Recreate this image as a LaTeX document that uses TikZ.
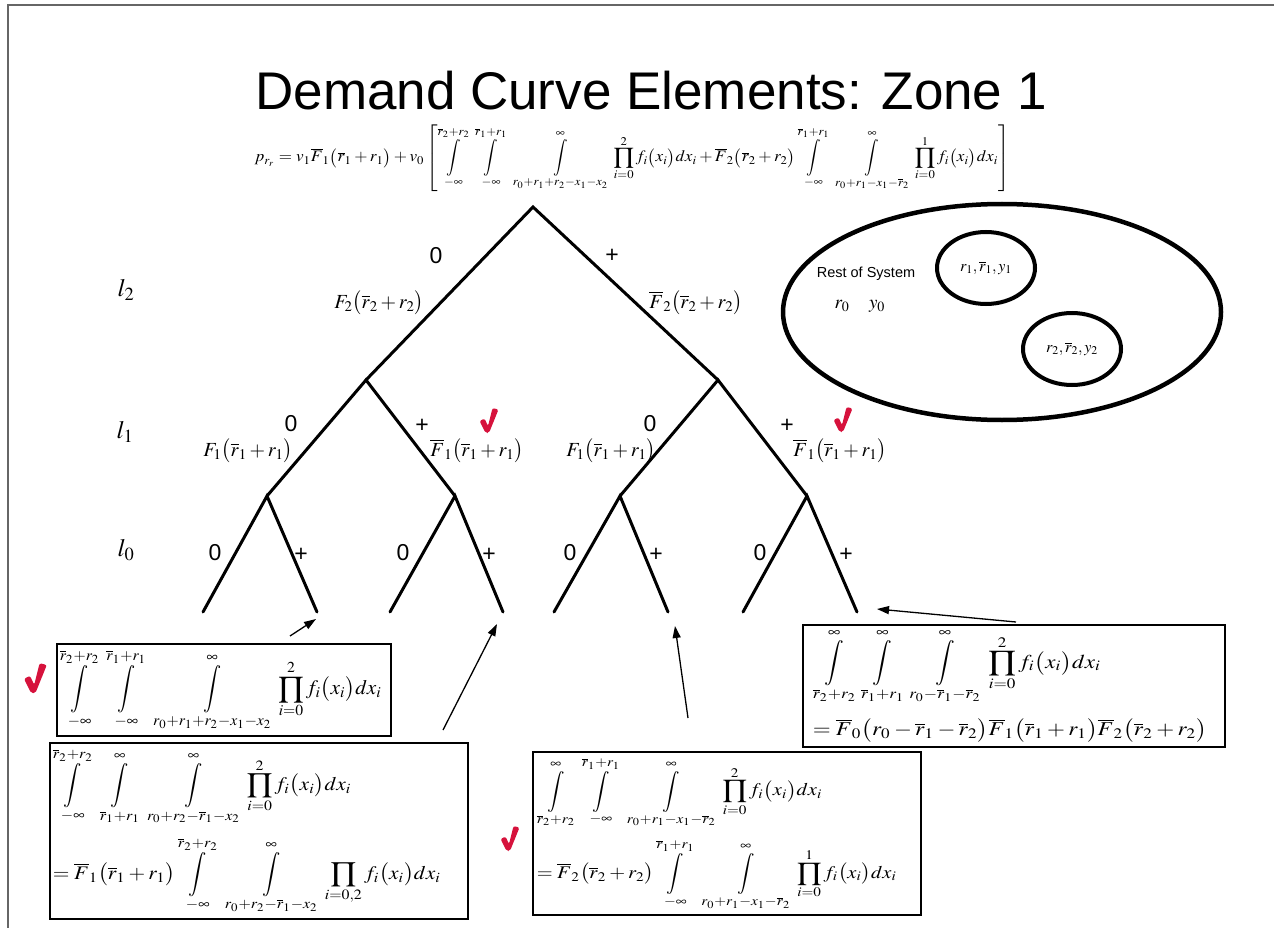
\documentclass[tikz,border=0pt]{standalone}
\usepackage{mathptmx}
\usepackage[no-math]{fontspec}
\usepackage{graphicx}
\usetikzlibrary{shapes.geometric,arrows.meta,positioning}
\newfontfamily\arial{Liberation Sans}
\definecolor{tickred}{RGB}{214,18,60}
\newcommand{\rb}[1]{\overline{r}_{#1}}
\newcommand{\Fb}[1]{\overline{F}_{#1}}
\newcommand{\pa}[1]{\bigl(#1\bigr)}
\newcommand{\fxd}{f_i\pa{x_i}dx_i}
\newcommand{\bint}{\mathop{\vcenter{\hbox{\scalebox{0.95}[1.15]{$\displaystyle\int$}}}}\limits}
\newcommand{\chkmark}[2][1]{\fill[tickred,rounded corners=2,shift={(#2)},scale=#1]
  (-7.5,-11) -- (-2.5,-13.5) -- (1,-6) -- (5.5,-24) -- (11.5,-22.5) -- (2,1) -- (-1.5,1) -- cycle;}
\tikzstyle{frame}=[draw=black!60,line width=1.5]
\tikzstyle{limb}=[line width=3,line cap=round]
\tikzstyle{sgn}=[font=\arial\fontsize{23}{23}\selectfont,inner sep=0]
\tikzstyle{prb}=[font=\fontsize{20}{24}\selectfont,inner sep=0]
\tikzstyle{lvl}=[font=\fontsize{25}{30}\selectfont,inner sep=0]
\tikzstyle{sys}=[ellipse,draw,line width=4.5,minimum width=438,minimum height=216]
\tikzstyle{part}=[ellipse,draw,line width=4,minimum width=98,minimum height=72,inner sep=0,font=\fontsize{16}{19}\selectfont]
\tikzstyle{eqbox}=[draw,line width=1.5,anchor=north west,align=left,inner sep=3]
\tikzstyle{arr}=[-{Triangle[length=12,width=8]},line width=1.3]

\begin{document}
\begin{tikzpicture}[x=1pt,y=-1pt]
\useasboundingbox (0,0) rectangle (1274,928);
\draw[frame] (8,928) -- (8,5) -- (1274,5);
\node[font=\arial\fontsize{53}{60}\selectfont,anchor=base] (title) at (651,110) {Demand Curve Elements: Zone 1};
\node (pr) at (632,158) {\resizebox*{755pt}{67pt}{$\displaystyle p_{r_r}=v_1\Fb1\pa{\rb1+r_1}+v_0\left[\bint_{-\infty}^{\rb2+r_2}\;\bint_{-\infty}^{\rb1+r_1}\;\bint_{r_0+r_1+r_2-x_1-x_2}^{\infty}\;\prod_{i=0}^{2}\fxd+\Fb2\pa{\rb2+r_2}\bint_{-\infty}^{\rb1+r_1}\;\bint_{r_0+r_1-x_1-\rb2}^{\infty}\;\prod_{i=0}^{1}\fxd\right]$}};

% tree
\coordinate (root) at (533,207);
\coordinate (L) at (366,380);
\coordinate (R) at (718,380);
\coordinate (LL) at (267,496);
\coordinate (LR) at (455,496);
\coordinate (RL) at (620,496);
\coordinate (RR) at (807,496);
\coordinate (LL0) at (203,612);
\coordinate (LL1) at (317,612);
\coordinate (LR0) at (390,612);
\coordinate (LR1) at (503,612);
\coordinate (RL0) at (554,612);
\coordinate (RL1) at (668,612);
\coordinate (RR0) at (743,612);
\coordinate (RR1) at (857,612);
\draw[limb] (L) -- (root) -- (R);
\draw[limb] (LL) -- (L) -- (LR);
\draw[limb] (RL) -- (R) -- (RR);
\draw[limb] (LL0) -- (LL) -- (LL1);
\draw[limb] (LR0) -- (LR) -- (LR1);
\draw[limb] (RL0) -- (RL) -- (RL1);
\draw[limb] (RR0) -- (RR) -- (RR1);

\node[lvl] (l2) at (126,290) {$l_2$};
\node[lvl] (l1) at (125,432) {$l_1$};
\node[lvl] (l0) at (126,550) {$l_0$};

\node[sgn] (s0) at (436,256) {0};
\node[sgn] (s1) at (612,256) {+};
\node[prb] (F2) at (379,303) {$F_2\pa{\rb2+r_2}$};
\node[prb] (Fb2) at (696,303) {$\Fb2\pa{\rb2+r_2}$};
\node[sgn] (s00) at (291,424) {0};
\node[sgn] (s01) at (422,426) {+};
\node[sgn] (s10) at (650,424) {0};
\node[sgn] (s11) at (787,426) {+};
\node[prb] (F1a) at (248,451) {$F_1\pa{\rb1+r_1}$};
\node[prb] (Fb1a) at (477,451) {$\Fb1\pa{\rb1+r_1}$};
\node[prb] (F1b) at (611,451) {$F_1\pa{\rb1+r_1}$};
\node[prb] (Fb1b) at (840,451) {$\Fb1\pa{\rb1+r_1}$};
\foreach \n/\x in {a/215,b/403,c/570,d/760}{
  \node[sgn] (z\n) at (\x,553) {0};
  \node[sgn] (p\n) at (\x+86,555) {+};
}

% rest of system
\node[sys] (sys) at (1002,312) {};
\node[part] (c1) at (986,268) {$r_1,\rb1,y_1$};
\node[part] (c2) at (1072,349) {$r_2,\rb2,y_2$};
\node[font=\arial\fontsize{14.5}{17}\selectfont] (rest) at (866,274) {Rest of System};
\node[font=\fontsize{19}{22}\selectfont] (r0) at (842,306) {$r_0$};
\node[font=\fontsize{19}{22}\selectfont] (y0) at (877,306) {$y_0$};

% boxes
\node[eqbox,text width=328pt,minimum height=92pt] (qa) at (56,643) {\resizebox*{322pt}{82pt}{$\displaystyle\bint_{-\infty}^{\rb2+r_2}\;\bint_{-\infty}^{\rb1+r_1}\;\bint_{r_0+r_1+r_2-x_1-x_2}^{\infty}\;\prod_{i=0}^{2}\fxd$}};
\node[eqbox,text width=412pt,minimum height=176pt] (qb) at (49,742) {\resizebox*{388pt}{166pt}{$\begin{array}{@{}l@{}}\displaystyle\bint_{-\infty}^{\rb2+r_2}\;\bint_{\rb1+r_1}^{\infty}\;\bint_{r_0+r_2-\rb1-x_2}^{\infty}\;\prod_{i=0}^{2}\fxd\\ \noalign{\vskip 6pt}
 \displaystyle=\Fb1\pa{\rb1+r_1}\bint_{-\infty}^{\rb2+r_2}\;\bint_{r_0+r_2-\rb1-x_2}^{\infty}\;\prod_{i=0,2}\fxd\end{array}$}};
\node[eqbox,text width=380pt,minimum height=163pt,inner xsep=4] (qc) at (532,751) {\resizebox*{360pt}{154pt}{$\begin{array}{@{}l@{}}\displaystyle\bint_{\rb2+r_2}^{\infty}\;\bint_{-\infty}^{\rb1+r_1}\;\bint_{r_0+r_1-x_1-\rb2}^{\infty}\;\prod_{i=0}^{2}\fxd\\ \noalign{\vskip 6pt}
 \displaystyle=\Fb2\pa{\rb2+r_2}\bint_{-\infty}^{\rb1+r_1}\;\bint_{r_0+r_1-x_1-\rb2}^{\infty}\;\prod_{i=0}^{1}\fxd\end{array}$}};
\node[eqbox,text width=402pt,minimum height=122pt,inner xsep=10] (qd) at (802,624) {\resizebox*{394pt}{114pt}{$\begin{array}{@{}l@{}}\displaystyle\bint_{\rb2+r_2}^{\infty}\,\bint_{\rb1+r_1}^{\infty}\,\bint_{r_0-\rb1-\rb2}^{\infty}\;\prod_{i=0}^{2}\fxd\\ \noalign{\vskip 8pt}
 \displaystyle=\Fb0\pa{r_0-\rb1-\rb2}\Fb1\pa{\rb1+r_1}\Fb2\pa{\rb2+r_2}\end{array}$}};

% arrows
\coordinate (ta) at (290,636);
\coordinate (ha) at (316,619);
\coordinate (tb) at (443,730);
\coordinate (hb) at (497,624);
\coordinate (tc) at (688,718);
\coordinate (hc) at (675,626);
\coordinate (td) at (1016,622);
\coordinate (hd) at (877,609);
\draw[arr] (ta) -- (ha);
\draw[arr] (tb) -- (hb);
\draw[arr] (tc) -- (hc);
\draw[arr] (td) -- (hd);

% checks
\chkmark{487,432}
\chkmark{841,431}
\chkmark[1.2]{33,692}
\chkmark{508,850}
\end{tikzpicture}
\end{document}
